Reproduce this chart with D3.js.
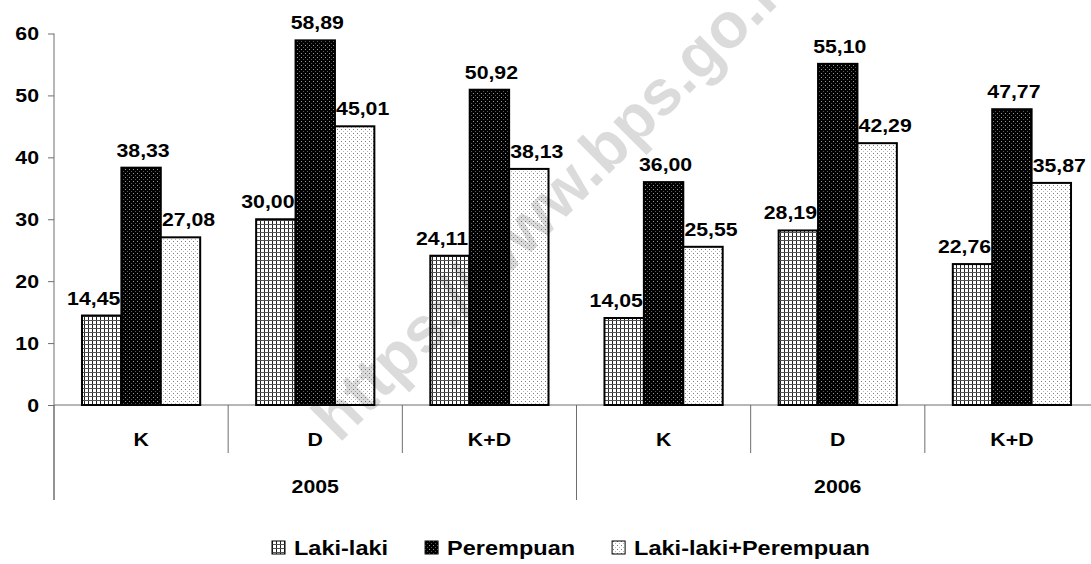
<!DOCTYPE html>
<html>
<head>
<meta charset="utf-8">
<script src="https://cdn.jsdelivr.net/npm/d3@7"></script>
<style>
  html, body { margin: 0; padding: 0; background: #fff; }
  svg { display: block; }
  text { font-family: "Liberation Sans", Arial, sans-serif; font-weight: bold; fill: #000; }
</style>
</head>
<body>
<div id="chart"></div>
<script>
// ---- data ----
const categories = ["K", "D", "K+D", "K", "D", "K+D"];
const years = ["2005", "2006"];
const seriesNames = ["Laki-laki", "Perempuan", "Laki-laki+Perempuan"];
const lakiLaki = [14.45, 30.00, 24.11, 14.05, 28.19, 22.76];
const perempuan = [38.33, 58.89, 50.92, 36.00, 55.10, 47.77];
const lakiPerempuan = [27.08, 45.01, 38.13, 25.55, 42.29, 35.87];
const yTicks = [0, 10, 20, 30, 40, 50, 60];
const watermark = "https://www.bps.go.id";

const seriesValues = [lakiLaki, perempuan, lakiPerempuan];

// ---- layout ----
const W = 1091, H = 564;
const svg = d3.select("#chart").append("svg").attr("width", W).attr("height", H);

const FS = 19, SX = 1.12; // font size & horizontal stretch

const x = d3.scaleBand().domain(d3.range(categories.length)).range([54, 1099]).paddingInner(0).paddingOuter(0);
const xs = d3.scaleBand().domain(seriesNames).range([0, x.bandwidth()]).paddingInner(0).paddingOuter(0.71);
const y = d3.scaleLinear().domain([0, 60]).range([405, 33.5]);

// ---- patterns ----
const defs = svg.append("defs");
const pL = defs.append("pattern").attr("id", "pL").attr("patternUnits", "userSpaceOnUse").attr("width", 4).attr("height", 4);
pL.append("rect").attr("width", 4).attr("height", 4).attr("fill", "#fff");
pL.append("rect").attr("x", 0).attr("y", 0).attr("width", 1).attr("height", 4).attr("fill", "#222");
pL.append("rect").attr("x", 0).attr("y", 0).attr("width", 4).attr("height", 1).attr("fill", "#555");

const pP = defs.append("pattern").attr("id", "pP").attr("patternUnits", "userSpaceOnUse").attr("width", 4).attr("height", 4);
pP.append("rect").attr("width", 4).attr("height", 4).attr("fill", "#000");
pP.append("rect").attr("x", 1).attr("y", 1).attr("width", 1).attr("height", 1).attr("fill", "#9a9a9a");
pP.append("rect").attr("x", 3).attr("y", 3).attr("width", 1).attr("height", 1).attr("fill", "#555");

const pT = defs.append("pattern").attr("id", "pT").attr("patternUnits", "userSpaceOnUse").attr("width", 4).attr("height", 4);
pT.append("rect").attr("width", 4).attr("height", 4).attr("fill", "#fff");
pT.append("rect").attr("x", 1).attr("y", 1).attr("width", 1).attr("height", 1).attr("fill", "#7a7a7a");
pT.append("rect").attr("x", 3).attr("y", 3).attr("width", 1).attr("height", 1).attr("fill", "#b8b8b8");

const fills = ["url(#pL)", "url(#pP)", "url(#pT)"];
const labelShift = [-8, 2, 8];

function stext(g, tx, ty, str, anchor, size) {
  const t = g.append("g").attr("transform", `translate(${tx},${ty}) scale(${SX},1)`)
    .append("text").attr("text-anchor", anchor || "middle").style("font-size", (size || FS) + "px").text(str);
  return t;
}

// ---- axes lines ----
const axisColor = "#6e6e6e";
// y axis
const yAxis = d3.axisLeft(y).tickValues(yTicks).tickSize(6).tickPadding(9).tickFormat(d3.format("d"));
const gy = svg.append("g").attr("transform", "translate(54,0)").call(yAxis);
gy.select(".domain").remove();
gy.selectAll(".tick line").attr("stroke", axisColor);
gy.selectAll(".tick text").each(function(d) {
  const t = d3.select(this);
  const tr = d3.select(this.parentNode);
  t.remove();
  const g = tr.append("g").attr("transform", `translate(-15,6) scale(${SX},1)`);
  g.append("text").attr("text-anchor", "end").style("font-size", FS + "px").text(d);
});
svg.append("line").attr("x1", 54).attr("x2", 54).attr("y1", y(60)).attr("y2", 500).attr("stroke", axisColor);

// x axis base line
svg.append("line").attr("x1", 54).attr("x2", W).attr("y1", y(0)).attr("y2", y(0)).attr("stroke", axisColor);

// dividers
d3.range(categories.length + 1).forEach(i => {
  const xx = x.range()[0] + i * x.step();
  const long = (i % 3 === 0);
  svg.append("line").attr("x1", xx).attr("x2", xx).attr("y1", y(0)).attr("y2", long ? 500 : 453).attr("stroke", axisColor);
});

// category labels
categories.forEach((c, i) => stext(svg, x(i) + x.bandwidth() / 2, 446, c));
years.forEach((yr, j) => stext(svg, x(j * 3) + x.step() * 1.5, 493, yr));

// ---- bars ----
seriesValues.forEach((vals, s) => {
  const g = svg.append("g");
  g.selectAll("rect").data(vals).join("rect")
    .attr("x", (d, i) => x(i) + xs(seriesNames[s]))
    .attr("y", d => y(d))
    .attr("width", xs.bandwidth())
    .attr("height", d => y(0) - y(d))
    .attr("fill", fills[s])
    .attr("stroke", "#000").attr("stroke-width", 2);
});
// labels
const fmt = v => d3.format(".2f")(v).replace(".", ",");
seriesValues.forEach((vals, s) => {
  vals.forEach((v, i) => {
    stext(svg, x(i) + xs(seriesNames[s]) + xs.bandwidth() / 2 + labelShift[s], y(v) - 11, fmt(v));
  });
});

// ---- legend ----
const lg = svg.append("g");
let lx = 272;
const LFS = 21;
seriesNames.forEach((n, s) => {
  lg.append("rect").attr("x", lx).attr("y", 541).attr("width", 13).attr("height", 13)
    .attr("fill", fills[s]).attr("stroke", "#000").attr("stroke-width", 1);
  const t = stext(lg, lx + 22, 555, n, "start", LFS);
  const w = t.node().getComputedTextLength() * SX;
  lx += 22 + w + 37;
});

// ---- watermark ----
svg.append("text").attr("transform", "translate(339,444) rotate(-45)")
  .style("font-size", "64px").style("fill", "#000").style("fill-opacity", 0.14)
  .text(watermark);
</script>
</body>
</html>
